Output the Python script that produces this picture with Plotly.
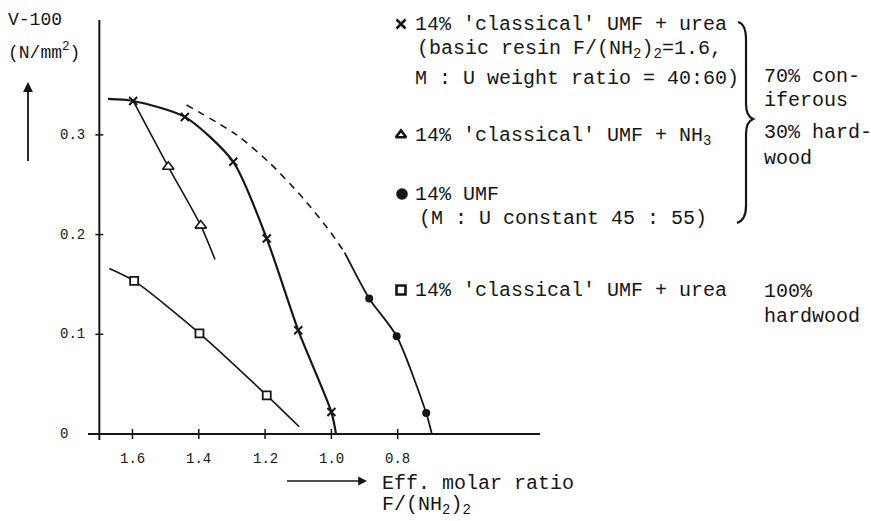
import plotly.graph_objects as go

# ---------------- data ----------------
x_ticks = [1.6, 1.4, 1.2, 1.0, 0.8]
x_tick_labels = ["1.6", "1.4", "1.2", "1.0", "0.8"]
y_ticks = [0.0, 0.1, 0.2, 0.3]
y_tick_labels = ["0", "0.1", "0.2", "0.3"]

# 14% 'classical' UMF + urea (70% coniferous / 30% hardwood)  -> crosses
cross_x = [1.598, 1.442, 1.296, 1.195, 1.100, 1.000]
cross_y = [0.334, 0.318, 0.273, 0.196, 0.104, 0.022]
cross_curve_x = [1.674, 1.598, 1.442, 1.296, 1.195, 1.100, 1.000, 0.986]
cross_curve_y = [0.336, 0.334, 0.318, 0.273, 0.196, 0.104, 0.022, 0.000]

# 14% 'classical' UMF + NH3 -> triangles
tri_x = [1.492, 1.394]
tri_y = [0.268, 0.209]
tri_curve_x = [1.598, 1.492, 1.394, 1.351]
tri_curve_y = [0.334, 0.268, 0.209, 0.175]

# 14% UMF (M:U constant 45:55) -> dots
dot_x = [0.886, 0.803, 0.714]
dot_y = [0.136, 0.098, 0.021]
dot_curve_x = [0.960, 0.886, 0.803, 0.714, 0.697]
dot_curve_y = [0.182, 0.136, 0.098, 0.021, 0.000]
dash_curve_x = [1.437, 1.286, 1.185, 1.085, 1.004, 0.960]
dash_curve_y = [0.330, 0.300, 0.2715, 0.2364, 0.203, 0.182]

# 14% 'classical' UMF + urea (100% hardwood) -> squares
sq_x = [1.595, 1.398, 1.195]
sq_y = [0.1535, 0.101, 0.0388]
sq_curve_x = [1.670, 1.595, 1.398, 1.195, 1.097]
sq_curve_y = [0.166, 0.1535, 0.101, 0.0388, 0.0073]

# ---------------- layout geometry ----------------
W, H = 871, 521
L, T, PW, PH = 88, 20, 452, 420
X_RANGE = [1.7342, 0.3707]
Y_RANGE = [-0.006, 0.4152]
Y_AXIS_AT = 1.70
FONT = "Liberation Mono, Courier New, monospace"
INK = "#161616"


def P(px, py):
    """pixel -> paper coordinates"""
    return (px - L) / PW, (T + PH - py) / PH


fig = go.Figure()

line_kw = dict(shape="spline", smoothing=0.7)

fig.add_trace(go.Scatter(x=cross_curve_x, y=cross_curve_y, mode="lines",
                         line=dict(color=INK, width=2.2, **line_kw)))
fig.add_trace(go.Scatter(x=tri_curve_x, y=tri_curve_y, mode="lines",
                         line=dict(color=INK, width=1.6, **line_kw)))
fig.add_trace(go.Scatter(x=sq_curve_x, y=sq_curve_y, mode="lines",
                         line=dict(color=INK, width=1.6, **line_kw)))
fig.add_trace(go.Scatter(x=dash_curve_x, y=dash_curve_y, mode="lines",
                         line=dict(color=INK, width=1.6, dash="7px,6px", **line_kw)))
fig.add_trace(go.Scatter(x=dot_curve_x, y=dot_curve_y, mode="lines",
                         line=dict(color=INK, width=1.8, **line_kw)))

fig.add_trace(go.Scatter(x=cross_x, y=cross_y, mode="markers",
                         marker=dict(symbol="x-thin", size=8, line=dict(color=INK, width=2))))
fig.add_trace(go.Scatter(x=tri_x, y=tri_y, mode="markers",
                         marker=dict(symbol="triangle-up", size=10, color="white",
                                     line=dict(color=INK, width=1.6))))
fig.add_trace(go.Scatter(x=sq_x, y=sq_y, mode="markers",
                         marker=dict(symbol="square", size=8, color="white",
                                     line=dict(color=INK, width=1.8))))
fig.add_trace(go.Scatter(x=dot_x, y=dot_y, mode="markers",
                         marker=dict(symbol="circle", size=8, color=INK)))

# legend symbols on an overlay pixel axis
leg_sym = ["x-thin", "triangle-up-open", "circle", "square-open"]
leg_px = [401, 401, 402, 401]
leg_py = [24, 135, 194, 290]
for s, lx, ly in zip(leg_sym, leg_px, leg_py):
    fig.add_trace(go.Scatter(x=[lx], y=[ly], mode="markers", xaxis="x2", yaxis="y2",
                             cliponaxis=False,
                             marker=dict(symbol=s, size=9, color=INK,
                                         line=dict(color=INK, width=2.6))))

shapes = []
# axes lines
shapes.append(dict(type="line", xref="x", yref="y", x0=Y_AXIS_AT, x1=Y_AXIS_AT,
                   y0=Y_RANGE[0], y1=Y_RANGE[1], line=dict(color=INK, width=2)))
shapes.append(dict(type="line", xref="x", yref="y", x0=X_RANGE[0], x1=X_RANGE[1],
                   y0=0, y1=0, line=dict(color=INK, width=2)))
# ticks
for xv in x_ticks:
    shapes.append(dict(type="line", xref="x", yref="y", x0=xv, x1=xv, y0=-0.005, y1=0.005,
                       line=dict(color=INK, width=1.5)))
for yv in y_ticks[1:]:
    shapes.append(dict(type="line", xref="x", yref="y", x0=Y_AXIS_AT + 0.012,
                       x1=Y_AXIS_AT - 0.012, y0=yv, y1=yv, line=dict(color=INK, width=1.5)))


# curly brace
def pp(px, py):
    a, b = P(px, py)
    return f"{a:.4f},{b:.4f}"


brace = ("M " + pp(738, 22) + " Q " + pp(746, 24) + " " + pp(746, 40) +
         " L " + pp(746, 104) + " Q " + pp(746, 116) + " " + pp(753, 119) +
         " Q " + pp(746, 122) + " " + pp(746, 134) +
         " L " + pp(746, 206) + " Q " + pp(746, 220) + " " + pp(737, 223))
shapes.append(dict(type="path", xref="paper", yref="paper", path=brace,
                   line=dict(color=INK, width=2.2)))

annotations = []


def txt(px, py, s, size=20, anchor="left", ya="middle"):
    a, b = P(px, py)
    annotations.append(dict(x=a, y=b, xref="paper", yref="paper", text=s, showarrow=False,
                            xanchor=anchor, yanchor=ya,
                            font=dict(family=FONT, size=size, color=INK)))


# tick labels
for yv, lab in zip(y_ticks, y_tick_labels):
    annotations.append(dict(x=P(58, 0)[0], y=yv, xref="paper", yref="y", text=lab,
                            showarrow=False, xanchor="left", yanchor="middle",
                            font=dict(family=FONT, size=14, color=INK)))
for xv, lab in zip(x_ticks, x_tick_labels):
    annotations.append(dict(x=xv, y=P(0, 459)[1], xref="x", yref="paper", text=lab,
                            showarrow=False, xanchor="center", yanchor="middle",
                            font=dict(family=FONT, size=14, color=INK)))

# axis titles
txt(6, 20, "V-100", size=18)
txt(6, 52, "(N/mm<sup>2</sup>)", size=18)
txt(380, 483, "Eff. molar ratio", size=20)
txt(380, 506, "F/(NH<sub>2</sub>)<sub>2</sub>", size=20)

# arrows
ha, hb = P(28, 82)
annotations.append(dict(x=ha, y=hb, xref="paper", yref="paper", ax=0, ay=82,
                        showarrow=True, arrowhead=2, arrowsize=1.1, arrowwidth=1.8,
                        arrowcolor=INK, text=" ", font=dict(size=2)))
ha, hb = P(367, 481)
annotations.append(dict(x=ha, y=hb, xref="paper", yref="paper", ax=-82, ay=0,
                        showarrow=True, arrowhead=2, arrowsize=1.1, arrowwidth=1.6,
                        arrowcolor=INK, text=" ", font=dict(size=2)))

# legend texts
TX = 413
txt(TX, 25, "14% 'classical' UMF + urea")
txt(TX + 2, 50, "(basic resin F/(NH<sub>2</sub>)<sub>2</sub>=1.6,")
txt(TX, 79, "M : U weight ratio = 40:60)")
txt(TX, 136, "14% 'classical' UMF + NH<sub>3</sub>")
txt(TX, 194, "14% UMF")
txt(TX + 4, 218, "(M : U constant 45 : 55)")
txt(TX, 290, "14% 'classical' UMF + urea")

RX = 762
txt(RX, 77, "70% con-")
txt(RX, 101, "iferous")
txt(RX, 132, "30% hard-")
txt(RX, 158, "wood")
txt(RX, 292, "100%")
txt(RX, 317, "hardwood")

fig.update_layout(
    width=W, height=H,
    margin=dict(l=L, r=W - L - PW, t=T, b=H - T - PH),
    paper_bgcolor="white", plot_bgcolor="white",
    showlegend=False,
    xaxis=dict(range=X_RANGE, visible=False, fixedrange=True),
    yaxis=dict(range=Y_RANGE, visible=False, fixedrange=True),
    xaxis2=dict(range=[L, L + PW], overlaying="x", visible=False),
    yaxis2=dict(range=[T + PH, T], overlaying="y", visible=False),
    shapes=shapes,
    annotations=annotations,
)

fig.write_html("out.html")
